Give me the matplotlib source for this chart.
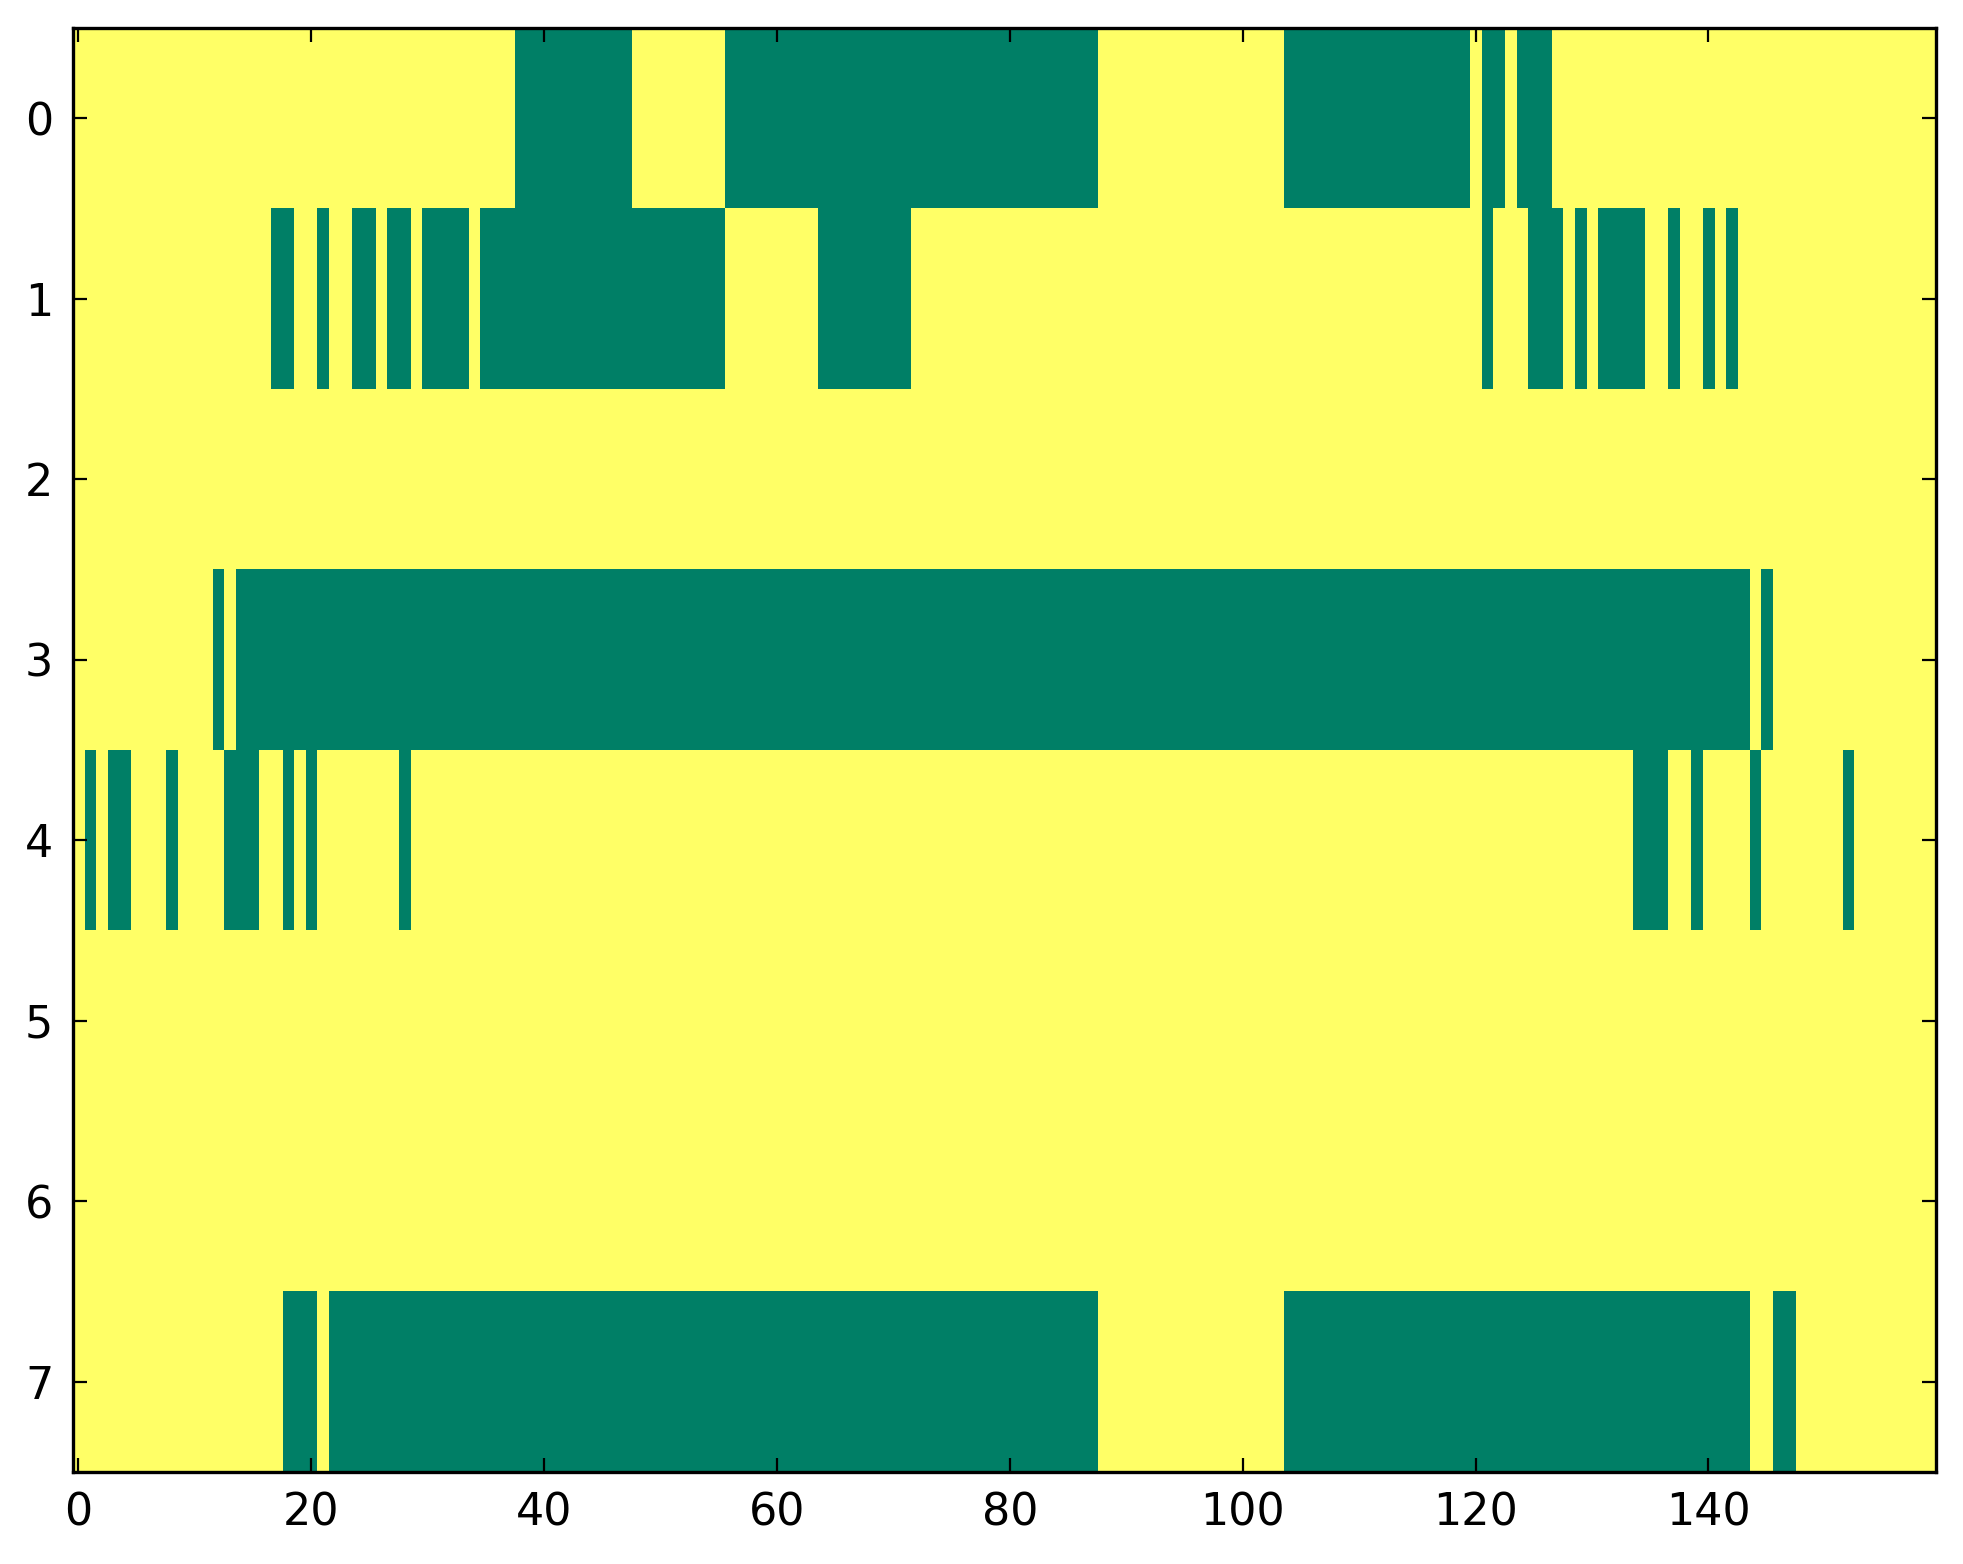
import numpy as np
import matplotlib
matplotlib.use("Agg")
import matplotlib.pyplot as plt

# number of columns in the grid
ncols = 160
nrows = 8

# runs of zero-valued cells (inclusive start, end) for each row; everything else is 1
row0_runs = [(38, 47), (56, 87), (104, 119), (121, 122), (124, 126)]
row1_runs = [(17, 18), (21, 21), (24, 25), (27, 28), (30, 33), (35, 55), (64, 71),
             (121, 121), (125, 127), (129, 129), (131, 134), (137, 137), (140, 140), (142, 142)]
row2_runs = []
row3_runs = [(12, 12), (14, 143), (145, 145)]
row4_runs = [(1, 1), (3, 4), (8, 8), (13, 15), (18, 18), (20, 20), (28, 28),
             (134, 136), (139, 139), (144, 144), (152, 152)]
row5_runs = []
row6_runs = []
row7_runs = [(18, 20), (22, 87), (104, 143), (146, 147)]

all_runs = [row0_runs, row1_runs, row2_runs, row3_runs,
            row4_runs, row5_runs, row6_runs, row7_runs]

grid = np.ones((nrows, ncols))
for r, runs in enumerate(all_runs):
    for a, b in runs:
        grid[r, a:b + 1] = 0

plt.rcParams.update({'font.size': 16,
                     'xtick.direction': 'in', 'ytick.direction': 'in',
                     'xtick.top': True, 'ytick.right': True,
                     'xtick.major.size': 5, 'ytick.major.size': 5,
                     'xtick.major.pad': 7, 'ytick.major.pad': 7,
                     'axes.linewidth': 1.2})

fig = plt.figure(figsize=(9.815, 7.82), dpi=200)
ax = fig.add_axes([0.037, 0.059, 0.949, 0.923])
ax.imshow(grid, cmap='summer', aspect='auto', interpolation='nearest', vmin=0, vmax=1)
ax.set_xticks(range(0, 141, 20))
ax.set_yticks(range(0, 8))
ax.set_xlim(-0.5, ncols - 0.5)
ax.set_ylim(nrows - 0.5, -0.5)

plt.savefig("out.png", dpi=200)
plt.close()
